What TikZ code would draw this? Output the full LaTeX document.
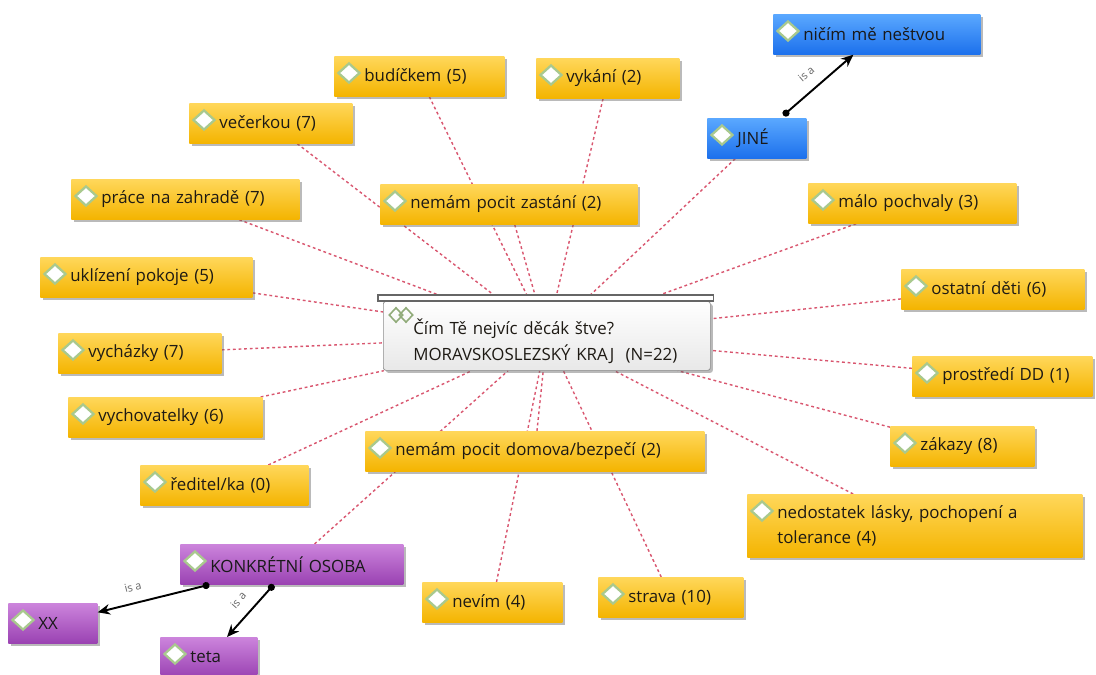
\documentclass[tikz,border=0pt]{standalone}
\usepackage{fontspec}
\setmainfont{Open Sans}
\usepackage{xcolor}
\usepackage{tikz}
\usetikzlibrary{shapes.geometric}
\usetikzlibrary{arrows.meta}
\usetikzlibrary{shadows}
\usetikzlibrary{backgrounds}

\definecolor{ytop}{HTML}{FFD75A}
\definecolor{ybot}{HTML}{F4B400}
\definecolor{btop}{HTML}{5AA8FF}
\definecolor{bbot}{HTML}{1C70EC}
\definecolor{ptop}{HTML}{CC84DC}
\definecolor{pbot}{HTML}{9A42B2}
\definecolor{linkred}{HTML}{D9566F}
\definecolor{icongreen}{HTML}{A9C98E}
\definecolor{concepttext}{HTML}{1E1A14}

\newlength\pxu
\setlength\pxu{0.02cm}
\newcommand{\pad}{\hspace*{30\pxu}}

\begin{document}
\begin{tikzpicture}[
    x=0.02cm, y=-0.02cm,
    concept/.style={rectangle, anchor=north west, inner xsep=0pt, inner ysep=2pt,
      minimum height=40\pxu, align=left, text=concepttext,
      font=\fontsize{9.6}{14.5}\selectfont,
      drop shadow={shadow xshift=2.5\pxu, shadow yshift=-2.5\pxu, opacity=0.45, fill=black!60}},
    yellowbox/.style={concept, top color=ytop, bottom color=ybot},
    bluebox/.style={concept, top color=btop, bottom color=bbot, text=black!90},
    purplebox/.style={concept, top color=ptop, bottom color=pbot, text=black!90},
    centerbox/.style={concept, top color=white, bottom color=black!9, draw=black!45, rounded corners=1.5pt},
    icon/.style={diamond, draw=icongreen, line width=1.3pt, fill=white, inner sep=0pt,
      minimum width=22\pxu, minimum height=20\pxu},
    centericon/.style={diamond, draw=icongreen!85!black, line width=0.9pt, inner sep=0pt,
      minimum width=14\pxu, minimum height=15\pxu},
    link/.style={draw=linkred, line width=0.8pt, dash pattern=on 1.6pt off 1.6pt},
    isa/.style={black, line width=1.1pt, {Circle[length=4pt]}-{Stealth[length=7pt, width=6pt]}},
    isa label/.style={font=\fontsize{6.3}{7}\selectfont, text=black!60, sloped, above=3pt},
  ]
  \useasboundingbox (0,0) rectangle (1096,674);

  \node[centerbox, text width=327\pxu, minimum height=69\pxu, text depth=10pt] (center) at (383,301)
    {\pad Čím Tě nejvíc děcák štve?\\\pad MORAVSKOSLEZSKÝ KRAJ\ \ (N=22)};
  \draw[fill=white, draw=black!60, line width=0.6pt] ([xshift=-5\pxu]center.north west) rectangle ([xshift=3\pxu, yshift=6\pxu]center.north east);
  \node[centericon] (center-icon-a) at ([xshift=13\pxu, yshift=-14\pxu]center.north west) {};
  \node[centericon] (center-icon-b) at ([xshift=23\pxu, yshift=-14\pxu]center.north west) {};

  \node[bluebox, text width=207\pxu]   (nicim)        at (773,14)  {\pad ničím mě neštvou};
  \node[bluebox, text width=99\pxu]    (jine)         at (707,118) {\pad JINÉ};
  \node[yellowbox, text width=170\pxu] (budicek)      at (334,56)  {\pad budíčkem (5)};
  \node[yellowbox, text width=143\pxu] (vykani)       at (536,58)  {\pad vykání (2)};
  \node[yellowbox, text width=163\pxu] (vecerka)      at (189,103) {\pad večerkou (7)};
  \node[yellowbox, text width=228\pxu] (zahrada)      at (71,179)  {\pad práce na zahradě (7)};
  \node[yellowbox, text width=257\pxu] (zastani)      at (380,184) {\pad nemám pocit zastání (2)};
  \node[yellowbox, text width=208\pxu] (pochvala)     at (808,183) {\pad málo pochvaly (3)};
  \node[yellowbox, text width=212\pxu] (pokoj)        at (40,257)  {\pad uklízení pokoje (5)};
  \node[yellowbox, text width=183\pxu] (deti)         at (901,269) {\pad ostatní děti (6)};
  \node[yellowbox, text width=163\pxu] (vychazky)     at (58,333)  {\pad vycházky (7)};
  \node[yellowbox, text width=180\pxu] (prostredi)    at (912,356) {\pad prostředí DD (1)};
  \node[yellowbox, text width=194\pxu] (vychovatelky) at (68,397)  {\pad vychovatelky (6)};
  \node[yellowbox, text width=144\pxu] (zakazy)       at (890,426) {\pad zákazy (8)};
  \node[yellowbox, text width=339\pxu] (domov)        at (365,431) {\pad nemám pocit domova/bezpečí (2)};
  \node[yellowbox, text width=168\pxu] (reditel)      at (140,465) {\pad ředitel/ka (0)};
  \node[yellowbox, text width=335\pxu, minimum height=63\pxu] (laska) at (747,494)
    {\pad nedostatek lásky, pochopení a\\\pad tolerance (4)};
  \node[purplebox, text width=223\pxu] (osoba)        at (180,544) {\pad KONKRÉTNÍ OSOBA};
  \node[yellowbox, text width=140\pxu] (nevim)        at (422,582) {\pad nevím (4)};
  \node[yellowbox, text width=145\pxu] (strava)       at (598,577) {\pad strava (10)};
  \node[purplebox, text width=89\pxu]  (xx)           at (8,603)   {\pad XX};
  \node[purplebox, text width=97\pxu]  (teta)         at (160,637) {\pad teta};

  \foreach \n in {nicim, jine, budicek, vykani, vecerka, zahrada, zastani, pochvala, pokoj, deti,
                  vychazky, prostredi, vychovatelky, zakazy, domov, reditel, laska, osoba, nevim,
                  strava, xx, teta}
    \node[icon] (\n-icon) at ([xshift=15\pxu, yshift=-17\pxu]\n.north west) {};

  \begin{pgfonlayer}{background}
    \fill[white] (0,0) rectangle (1096,674);
    \foreach \n in {jine, budicek, vykani, vecerka, zahrada, zastani, pochvala, pokoj, deti,
                    vychazky, prostredi, vychovatelky, zakazy, domov, reditel, laska, osoba,
                    nevim, strava}
      \draw[link] (\n) -- (center);
  \end{pgfonlayer}

  \draw[isa, shorten <=4\pxu] (jine) -- node[isa label] {is a} (nicim);
  \draw[isa] (osoba) -- node[isa label, pos=0.65] {is a} (xx);
  \draw[isa] (osoba) -- node[isa label] {is a} (teta);

\end{tikzpicture}
\end{document}
